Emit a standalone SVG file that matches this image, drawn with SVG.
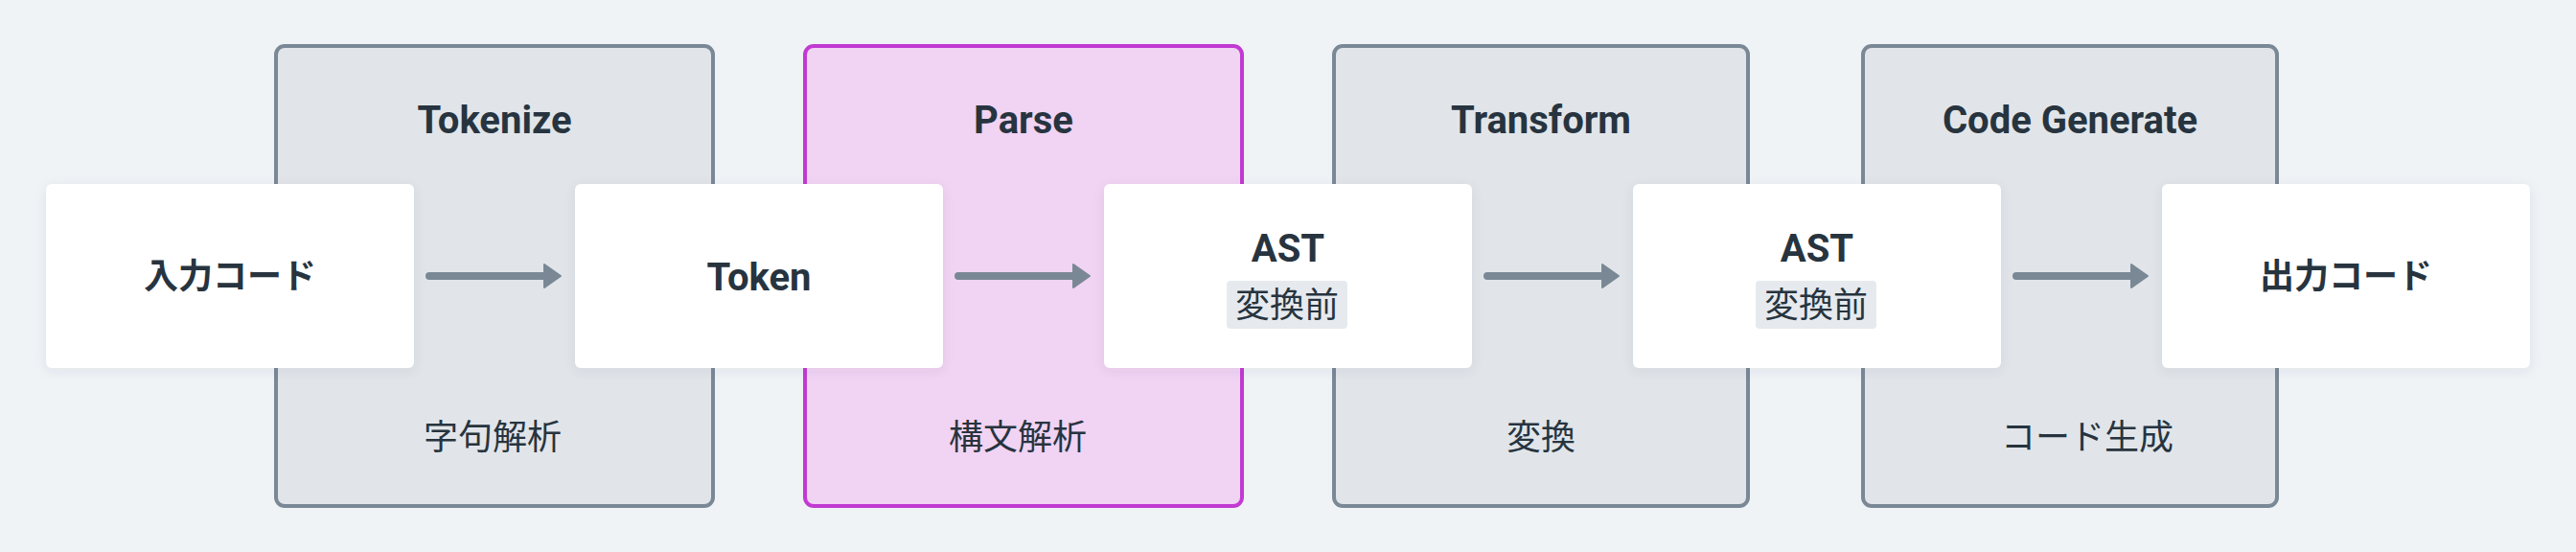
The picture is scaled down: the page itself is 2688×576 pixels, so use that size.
<svg xmlns="http://www.w3.org/2000/svg" width="2688" height="576" viewBox="0 0 2688 576">
<defs>
<style>
.grp{fill:#e1e5e9;stroke:#7a8896;stroke-width:4}
.grp.hl{fill:#f1d3f3;stroke:#c13ad2}
.node{fill:#ffffff;filter:url(#sh)}
.title{font-family:Roboto,"Noto Sans CJK JP",sans-serif;font-weight:700;font-size:40px;fill:#27343f;text-anchor:middle}
.sub{font-family:"Noto Sans CJK JP",sans-serif;font-weight:400;font-size:36px;fill:#27343f;text-anchor:middle}
.lbl{font-family:Roboto,"Noto Sans CJK JP",sans-serif;font-weight:700;font-size:40px;fill:#27343f;text-anchor:middle}
.jlbl{font-family:"Noto Sans CJK JP",sans-serif;font-weight:700;font-size:36px;fill:#27343f;text-anchor:middle}
.badge{fill:#e6eaee}
.conn line{stroke:#7a8896;stroke-width:8;stroke-linecap:round}
.conn polygon{fill:#7a8896;stroke:#7a8896;stroke-width:2;stroke-linejoin:round}
</style>
<filter id="sh" x="-10%" y="-20%" width="120%" height="150%">
<feDropShadow dx="0" dy="3" stdDeviation="6" flood-color="#3a4a5a" flood-opacity="0.08"/>
</filter>
</defs>
<rect width="2688" height="576" fill="#eff3f6"/>
<g id="stage-tokenize">
<rect class="grp" x="288" y="48" width="456" height="480" rx="9"/>
<text class="title" x="516" y="139">Tokenize</text>
<text class="sub" x="514" y="469">字句解析</text>
</g>
<g id="stage-parse">
<rect class="grp hl" x="840" y="48" width="456" height="480" rx="9"/>
<text class="title" x="1068" y="139">Parse</text>
<text class="sub" x="1062" y="469">構文解析</text>
</g>
<g id="stage-transform">
<rect class="grp" x="1392" y="48" width="432" height="480" rx="9"/>
<text class="title" x="1608" y="139">Transform</text>
<text class="sub" x="1608" y="469">変換</text>
</g>
<g id="stage-codegen">
<rect class="grp" x="1944" y="48" width="432" height="480" rx="9"/>
<text class="title" x="2160" y="139">Code Generate</text>
<text class="sub" x="2178" y="469">コード生成</text>
</g>
<g class="conn" id="connectors">
<line x1="448" y1="288" x2="570" y2="288"/><polygon points="568,276 585,288 568,300"/>
<line x1="1000" y1="288" x2="1122" y2="288"/><polygon points="1120,276 1137,288 1120,300"/>
<line x1="1552" y1="288" x2="1674" y2="288"/><polygon points="1672,276 1689,288 1672,300"/>
<line x1="2104" y1="288" x2="2226" y2="288"/><polygon points="2224,276 2241,288 2224,300"/>
</g>
<g id="node-input">
<rect class="node" x="48" y="192" width="384" height="192" rx="6"/>
<text class="jlbl" x="240" y="301">入力コード</text>
</g>
<g id="node-token">
<rect class="node" x="600" y="192" width="384" height="192" rx="6"/>
<text class="lbl" x="792" y="303">Token</text>
</g>
<g id="node-ast1">
<rect class="node" x="1152" y="192" width="384" height="192" rx="6"/>
<text class="lbl" x="1344" y="273">AST</text>
<rect class="badge" x="1280" y="293" width="126" height="50" rx="4"/>
<text class="sub" x="1343" y="331">変換前</text>
</g>
<g id="node-ast2">
<rect class="node" x="1704" y="192" width="384" height="192" rx="6"/>
<text class="lbl" x="1896" y="273">AST</text>
<rect class="badge" x="1832" y="293" width="126" height="50" rx="4"/>
<text class="sub" x="1895" y="331">変換前</text>
</g>
<g id="node-output">
<rect class="node" x="2256" y="192" width="384" height="192" rx="6"/>
<text class="jlbl" x="2448" y="301">出力コード</text>
</g>
</svg>
